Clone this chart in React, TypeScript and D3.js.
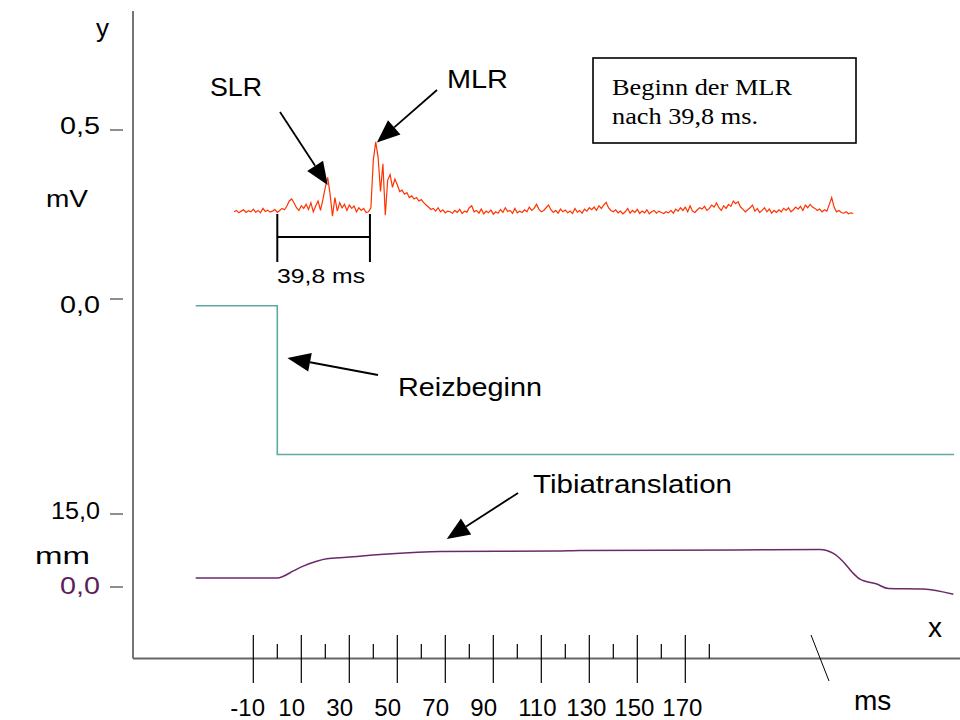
import React from "react";
import * as d3 from "d3";

const width = 960;
const height = 720;

// time axis (ms)
const majorTicks = [-10, 10, 30, 50, 70, 90, 110, 130, 150, 170];
const minorTicks = [0, 20, 40, 60, 80, 100, 120, 140, 160, 180];

// EMG (mV), one sample per ms, first sample at -18 ms
const emgStart = -18;
const emgValues = [
  0.258, 0.262, 0.255, 0.26, 0.264, 0.256, 0.261, 0.258, 0.266, 0.257,
  0.262, 0.255, 0.268, 0.259, 0.263, 0.257, 0.26, 0.265, 0.256, 0.262,
  0.268, 0.264, 0.275, 0.29, 0.296, 0.284, 0.27, 0.262, 0.276, 0.268,
  0.28, 0.265, 0.285, 0.258, 0.275, 0.29, 0.262, 0.295, 0.33, 0.36,
  0.31, 0.245, 0.3, 0.26, 0.285, 0.27, 0.28, 0.262, 0.278, 0.268,
  0.275, 0.258, 0.27, 0.262, 0.268, 0.256, 0.258, 0.27, 0.41, 0.465,
  0.42, 0.318, 0.4, 0.248, 0.352, 0.368, 0.33, 0.355, 0.338, 0.318,
  0.322, 0.31, 0.315, 0.3, 0.305, 0.296, 0.3, 0.29, 0.294, 0.285,
  0.278, 0.272, 0.265, 0.268, 0.26, 0.27, 0.258, 0.264, 0.255, 0.26,
  0.258, 0.254, 0.262, 0.256, 0.265, 0.253, 0.26, 0.257, 0.27, 0.276,
  0.258, 0.262, 0.254, 0.266, 0.252, 0.26, 0.255, 0.263, 0.251, 0.258,
  0.254, 0.265, 0.256, 0.27, 0.259, 0.262, 0.253, 0.268, 0.255, 0.26,
  0.256, 0.264, 0.258, 0.272, 0.262, 0.268, 0.28, 0.266, 0.258, 0.262,
  0.27, 0.278, 0.264, 0.256, 0.262, 0.254, 0.266, 0.258, 0.263, 0.255,
  0.26, 0.253, 0.268, 0.257, 0.262, 0.254, 0.266, 0.26, 0.27, 0.264,
  0.272, 0.262, 0.276, 0.268, 0.278, 0.286, 0.27, 0.262, 0.258, 0.264,
  0.255, 0.26, 0.252, 0.258, 0.268, 0.254, 0.262, 0.256, 0.265, 0.253,
  0.26, 0.255, 0.264, 0.252, 0.258, 0.262, 0.254, 0.26, 0.256, 0.253,
  0.258, 0.255, 0.262, 0.254, 0.266, 0.26, 0.27, 0.262, 0.272, 0.258,
  0.276, 0.26, 0.256, 0.264, 0.27, 0.266, 0.274, 0.262, 0.268, 0.278,
  0.272, 0.284, 0.27, 0.262, 0.276, 0.268, 0.28, 0.274, 0.29, 0.282,
  0.288, 0.272, 0.266, 0.258, 0.264, 0.27, 0.278, 0.26, 0.268, 0.256,
  0.262, 0.27, 0.258, 0.266, 0.254, 0.262, 0.256, 0.264, 0.258, 0.268,
  0.262, 0.27, 0.258, 0.264, 0.272, 0.266, 0.274, 0.262, 0.278, 0.27,
  0.28, 0.272, 0.268, 0.262, 0.266, 0.258, 0.264, 0.26, 0.28, 0.3,
  0.272, 0.258, 0.262, 0.256, 0.254, 0.258, 0.252, 0.255, 0.253,
];

// stimulus trigger, drawn on the mV scale
const triggerTimes = [-34, 0, 0, 282];
const triggerValues = [-0.02, -0.02, -0.46, -0.46];

// tibia translation (mm)
const tibiaTimes = [
  -34, 0, 2.5, 6.7, 10.8, 16.4, 20.6, 28.9, 42.8, 56.7, 67.8, 116.4, 126.1,
  191.4, 226.1, 231.7, 235.8, 240, 242.8, 249.8, 254.6, 269.2, 281.7,
];
const tibiaValues = [
  1.85, 1.85, 2.2, 3.3, 4.3, 5.3, 5.8, 6.1, 6.7, 7.1, 7.3, 7.4, 7.5,
  7.6, 7.7, 6.9, 5.2, 2.8, 1.6, 0.6, -0.3, -0.4, -1.5,
];

// MLR onset bracket (ms)
const bracketFrom = 0;
const bracketTo = 38.6;

const sans = "'Liberation Sans', Arial, sans-serif";
const serif = "'Liberation Serif', 'Times New Roman', serif";

function Arrow({ from, to }: { from: [number, number]; to: [number, number] }) {
  const dx = to[0] - from[0];
  const dy = to[1] - from[1];
  const len = Math.hypot(dx, dy);
  const ux = dx / len;
  const uy = dy / len;
  const headLen = 23;
  const half = 9.5;
  const bx = to[0] - ux * headLen;
  const by = to[1] - uy * headLen;
  const pts = [
    [to[0], to[1]],
    [bx - uy * half, by + ux * half],
    [bx + uy * half, by - ux * half],
  ];
  return (
    <g>
      <line x1={from[0]} y1={from[1]} x2={bx} y2={by} stroke="#000" strokeWidth={1.8} />
      <polygon points={pts.map((p) => p.join(",")).join(" ")} fill="#000" />
    </g>
  );
}

export default function App() {
  const x = d3.scaleLinear().domain([-10, 170]).range([253.3, 685.3]);
  const yMv = d3.scaleLinear().domain([0, 0.5]).range([299, 130]);
  const yMm = d3.scaleLinear().domain([0, 15]).range([587, 514]);

  const emgLine = d3
    .line<number>()
    .x((_, i) => x(emgStart + i))
    .y((d) => yMv(d));

  const triggerLine = d3
    .line<number>()
    .x((d) => x(d))
    .y((_, i) => yMv(triggerValues[i]));

  const tibiaLine = d3
    .line<number>()
    .x((d) => x(d))
    .y((_, i) => yMm(tibiaValues[i]))
    .curve(d3.curveMonotoneX);

  const axisY = 658.5;
  const axisX = 133;

  return (
    <svg
      width={width}
      height={height}
      style={{ position: "absolute", left: 0, top: 0, background: "#fff" }}
    >
      <rect width={width} height={height} fill="#fff" />

      {/* axes */}
      <line x1={axisX} y1={11} x2={axisX} y2={axisY} stroke="#666" strokeWidth={1.8} />
      <line x1={axisX} y1={axisY} x2={width} y2={axisY} stroke="#666" strokeWidth={1.8} />

      {/* left ticks */}
      {[yMv(0.5), yMv(0), yMm(15), yMm(0)].map((py, i) => (
        <line key={i} x1={110} x2={123} y1={py} y2={py} stroke="#444" strokeWidth={1.2} />
      ))}

      <g fontFamily={sans} fill="#000">
        <text x={96} y={37} fontSize={26}>y</text>
        <text x={100} y={134} fontSize={24} textAnchor="end" textLength={40} lengthAdjust="spacingAndGlyphs">0,5</text>
        <text x={88} y={207} fontSize={23} textAnchor="end" textLength={42} lengthAdjust="spacingAndGlyphs">mV</text>
        <text x={100} y={313} fontSize={24} textAnchor="end" textLength={40} lengthAdjust="spacingAndGlyphs">0,0</text>
        <text x={100} y={519} fontSize={24} textAnchor="end" textLength={49} lengthAdjust="spacingAndGlyphs">15,0</text>
        <text x={90} y={564} fontSize={23} textAnchor="end" textLength={55} lengthAdjust="spacingAndGlyphs">mm</text>
        <text x={100} y={594} fontSize={24} textAnchor="end" textLength={40} lengthAdjust="spacingAndGlyphs" fill="#5c1f5c">0,0</text>
        <text x={928} y={637} fontSize={28}>x</text>
        <text x={854} y={710} fontSize={28}>ms</text>
      </g>

      {/* bottom ticks */}
      {majorTicks.map((t) => (
        <line key={"M" + t} x1={x(t)} x2={x(t)} y1={635} y2={683} stroke="#000" strokeWidth={1.2} />
      ))}
      {minorTicks.map((t) => (
        <line key={"m" + t} x1={x(t)} x2={x(t)} y1={644} y2={axisY} stroke="#000" strokeWidth={1.2} />
      ))}
      {majorTicks.map((t) => (
        <text key={"l" + t} x={x(t) - 23} y={716} fontFamily={sans} fontSize={24}>
          {t}
        </text>
      ))}
      <line x1={811} y1={635} x2={829} y2={681} stroke="#000" strokeWidth={1} />

      {/* traces */}
      <path d={triggerLine(triggerTimes) || ""} fill="none" stroke="#5fa8a2" strokeWidth={1.6} />
      <path d={tibiaLine(tibiaTimes) || ""} fill="none" stroke="#6a2a6a" strokeWidth={1.5} />
      <path d={emgLine(emgValues) || ""} fill="none" stroke="#ff3300" strokeWidth={1.2} />

      {/* onset bracket */}
      <g stroke="#000" strokeWidth={2}>
        <line x1={x(bracketFrom)} x2={x(bracketFrom)} y1={214} y2={262} />
        <line x1={x(bracketTo)} x2={x(bracketTo)} y1={214} y2={262} />
        <line x1={x(bracketFrom)} x2={x(bracketTo)} y1={237} y2={237} />
      </g>
      <text x={321} y={283} fontFamily={sans} fontSize={21} textAnchor="middle" textLength={88} lengthAdjust="spacingAndGlyphs">
        39,8 ms
      </text>

      {/* annotations */}
      <g fontFamily={sans} fontSize={25}>
        <text x={210} y={96} textLength={52} lengthAdjust="spacingAndGlyphs">SLR</text>
        <text x={447} y={88} textLength={61} lengthAdjust="spacingAndGlyphs">MLR</text>
        <text x={398} y={396} textLength={144} lengthAdjust="spacingAndGlyphs">Reizbeginn</text>
        <text x={533} y={493} textLength={199} lengthAdjust="spacingAndGlyphs">Tibiatranslation</text>
      </g>
      <Arrow from={[280, 112]} to={[x(21), yMv(0.337)]} />
      <Arrow from={[437, 90]} to={[x(41.5), yMv(0.463)]} />
      <Arrow from={[378, 375]} to={[x(4.2), 358]} />
      <Arrow from={[518, 493]} to={[x(70.6), 539]} />

      {/* info box */}
      <rect x={593} y={58} width={263} height={85} fill="#fff" stroke="#000" strokeWidth={1.6} />
      <text x={612} y={95} fontFamily={serif} fontSize={24} textLength={180} lengthAdjust="spacingAndGlyphs">
        Beginn der MLR
      </text>
      <text x={612} y={124} fontFamily={serif} fontSize={24} textLength={146} lengthAdjust="spacingAndGlyphs">
        nach 39,8 ms.
      </text>
    </svg>
  );
}
